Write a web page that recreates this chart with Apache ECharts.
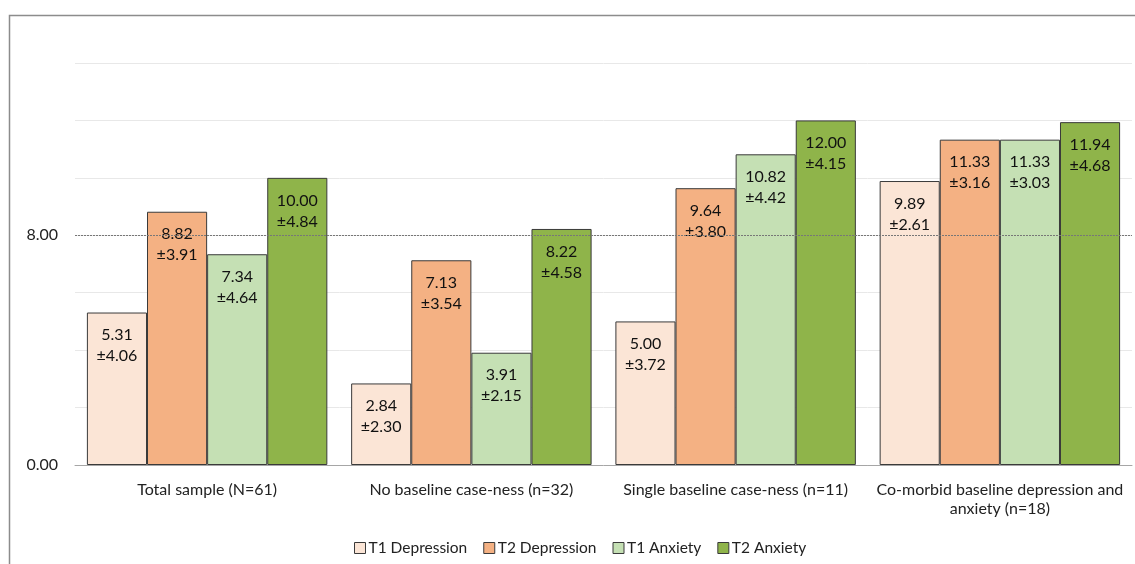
<!DOCTYPE html>
<html><head><meta charset="utf-8">
<script src="https://cdn.jsdelivr.net/npm/echarts@6/dist/echarts.min.js"></script>
<style>html,body{margin:0;padding:0;background:#fff}#c{width:1135px;height:564px}</style>
</head><body><div id="c"></div>
<script>
const categories = ['Total sample (N=61)', 'No baseline case-ness (n=32)', 'Single baseline case-ness (n=11)', 'Co-morbid baseline depression and\nanxiety (n=18)'];
const seriesNames = ['T1 Depression', 'T2 Depression', 'T1 Anxiety', 'T2 Anxiety'];
const t1DepMean = [5.31, 2.84, 5.00, 9.89];
const t1DepSd   = [4.06, 2.30, 3.72, 2.61];
const t2DepMean = [8.82, 7.13, 9.64, 11.33];
const t2DepSd   = [3.91, 3.54, 3.80, 3.16];
const t1AnxMean = [7.34, 3.91, 10.82, 11.33];
const t1AnxSd   = [4.64, 2.15, 4.42, 3.03];
const t2AnxMean = [10.00, 8.22, 12.00, 11.94];
const t2AnxSd   = [4.84, 4.58, 4.15, 4.68];
const yTickLabels = [0, 8];

const colors = ['#FBE5D6', '#F4B183', '#C5E0B4', '#8FB44A'];
const means = [t1DepMean, t2DepMean, t1AnxMean, t2AnxMean];
const sds = [t1DepSd, t2DepSd, t1AnxSd, t2AnxSd];
const FONT = 'Lato';

const chart = echarts.init(document.getElementById('c'));
const series = seriesNames.map((name, i) => ({
  name, type: 'bar',
  barGap: '0%', barCategoryGap: '9%',
  data: means[i].map((v, j) => ({ value: v, sd: sds[i][j] })),
  itemStyle: { color: colors[i], borderColor: '#3a3a3a', borderWidth: 1 },
  label: {
    show: true, position: 'insideTop', distance: 12,
    fontFamily: FONT, fontSize: 16, color: '#111', lineHeight: 21,
    formatter: p => p.value.toFixed(2) + '\n±' + p.data.sd.toFixed(2)
  },
  markLine: i === 0 ? {
    silent: true, symbol: 'none', label: { show: false },
    lineStyle: { color: '#777', type: [2, 1], width: 1 },
    data: [{ yAxis: 8 }]
  } : undefined
}));

chart.setOption({
  animation: false,
  textStyle: { fontFamily: FONT },
  graphic: [
    { type: 'polyline', shape: { points: [[9.5, 564], [9.5, 15.5], [1135, 15.5]] }, style: { stroke: '#8c8c8c', lineWidth: 1.5, fill: null } }
  ],
  grid: { left: 75, right: 3, top: 63, bottom: 99 },
  legend: {
    left: 349, top: 535, itemWidth: 11, itemHeight: 11, itemGap: 16,
    icon: 'rect',
    itemStyle: { borderColor: '#3a3a3a', borderWidth: 1 },
    textStyle: { fontFamily: FONT, fontSize: 15.5, color: '#222', padding: [0, 0, 0, -2] },
    data: seriesNames
  },
  xAxis: {
    type: 'category', data: categories,
    axisTick: { show: false },
    axisLine: { lineStyle: { color: '#a6a6a6', width: 1 } },
    axisLabel: { fontFamily: FONT, fontSize: 16, color: '#222', margin: 15, lineHeight: 19, interval: 0 }
  },
  yAxis: {
    type: 'value', min: 0, max: 14, interval: 2,
    axisLine: { show: false }, axisTick: { show: false },
    splitLine: { lineStyle: { color: '#e8e8e8', width: 1 } },
    axisLabel: {
      fontFamily: FONT, fontSize: 16, color: '#222', margin: 17,
      formatter: v => yTickLabels.includes(v) ? v.toFixed(2) : ''
    }
  },
  series
});
</script></body></html>
